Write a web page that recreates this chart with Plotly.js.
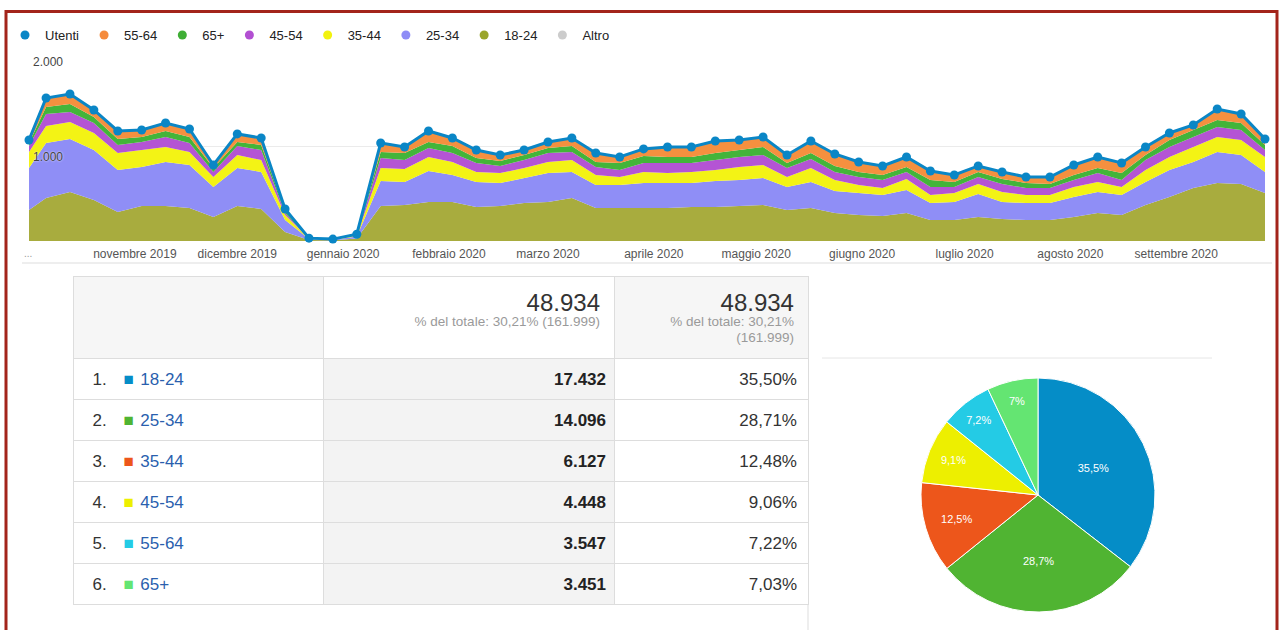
<!DOCTYPE html>
<html><head><meta charset="utf-8">
<script src="https://cdn.plot.ly/plotly-3.0.1.min.js"></script>
<style>html,body{margin:0;padding:0;background:#fff;} #chart{width:1282px;height:630px;}</style>
</head><body><div id="chart"></div>
<script>
// ---------- DATA ----------
const weeks = ['2019-10-15','2019-10-20','2019-10-27','2019-11-03','2019-11-10','2019-11-17','2019-11-24','2019-12-01','2019-12-08','2019-12-15','2019-12-22','2019-12-29',
'2020-01-05','2020-01-12','2020-01-19','2020-01-26','2020-02-02','2020-02-09','2020-02-16','2020-02-23','2020-03-01','2020-03-08','2020-03-15','2020-03-22','2020-03-29',
'2020-04-05','2020-04-12','2020-04-19','2020-04-26','2020-05-03','2020-05-10','2020-05-17','2020-05-24','2020-05-31','2020-06-07','2020-06-14','2020-06-21','2020-06-28',
'2020-07-05','2020-07-12','2020-07-19','2020-07-26','2020-08-02','2020-08-09','2020-08-16','2020-08-23','2020-08-30','2020-09-06','2020-09-13','2020-09-20','2020-09-27',
'2020-10-04','2020-10-11'];
const utenti = [1063,1505,1547,1379,1158,1168,1242,1179,800,1127,1084,337,30,20,71,1032,990,1158,1084,958,905,958,1042,1084,926,884,969,990,990,1053,1063,1095,905,1053,916,832,790,884,737,695,790,726,674,674,800,884,821,990,1137,1221,1389,1337,1074];
const age1824 = [326,453,516,432,305,368,368,347,253,368,337,95,10,7,25,368,379,411,411,358,368,400,411,453,347,347,347,347,358,358,368,379,326,347,295,274,263,295,221,221,253,232,221,221,253,295,274,379,463,558,611,600,505];
const age2534 = [442,579,558,526,442,411,463,453,316,400,390,126,10,6,22,263,242,326,284,263,242,263,305,274,242,242,263,263,253,274,274,284,242,274,232,232,221,242,179,190,242,179,179,179,211,221,211,242,284,274,326,305,221];
const age3544 = [168,179,179,179,179,179,158,137,105,137,126,53,4,3,10,137,137,147,137,105,105,105,116,126,105,84,116,105,116,116,137,137,105,147,116,84,74,116,84,95,105,105,84,84,105,105,84,126,137,158,158,158,158];
const age4554 = [63,126,105,105,84,84,105,95,53,95,105,21,2,2,6,105,95,95,95,95,74,84,95,84,84,74,95,105,95,105,105,105,95,95,84,84,84,74,84,63,74,84,74,74,74,95,74,105,105,105,105,105,74];
const age65 = [32,74,84,63,63,53,63,63,42,42,53,21,2,1,4,63,74,63,74,53,53,53,53,63,53,74,74,63,63,74,74,84,53,63,63,53,53,53,74,53,53,53,53,42,53,53,74,53,74,74,74,74,53];
const age5564 = [32,95,105,74,84,74,84,84,32,84,74,21,2,1,4,95,63,116,84,84,63,53,63,84,95,63,74,105,105,126,105,105,84,126,126,105,95,105,95,74,63,74,63,74,105,116,105,84,74,53,116,95,63];

const legendNames = ['Utenti','55-64','65+','45-54','35-44','25-34','18-24','Altro'];
const legendColors = ['#0a86c6','#f58b3c','#3fae35','#b24fd2','#f2f20e','#8e8cf6','#9aa52c','#cccccc'];

const monthTicks = ['2019-11-15','2019-12-15','2020-01-15','2020-02-15','2020-03-15','2020-04-15','2020-05-15','2020-06-15','2020-07-15','2020-08-15','2020-09-15'];
const monthLabels = ['novembre 2019','dicembre 2019','gennaio 2020','febbraio 2020','marzo 2020','aprile 2020','maggio 2020','giugno 2020','luglio 2020','agosto 2020','settembre 2020'];
const partialMonthLabel = '...';

const ageGroups = ['18-24','25-34','35-44','45-54','55-64','65+'];
const ageUsers = [17432,14096,6127,4448,3547,3451];
const ageColors = ['#058DC7','#50B432','#ED561B','#EDEF00','#24CBE5','#64E572'];
const totalUsers = 48934;
const siteUsers = 161999;

// ---------- HELPERS ----------
const W = 1282, H = 630;
const px = x => x / W;
const py = y => 1 - y / H;
const fmtInt = n => String(n).replace(/\B(?=(\d{3})+(?!\d))/g, '.');
const fmtDec = (v, d) => v.toFixed(d).replace('.', ',');
const NB = '\u00a0';
const FONT = 'Arial, "Liberation Sans", sans-serif';
const ctx = document.createElement('canvas').getContext('2d');
const tw = (t, size, bold) => { ctx.font = (bold ? 'bold ' : '') + size + 'px Arial, "Liberation Sans", sans-serif'; return ctx.measureText(t).width; };
const span = (style, t) => `<span style="${style}">${t}</span>`;
// horizontal gap of w pixels made of non-breaking spaces
const gap = (w, base) => {
  base = base || 12;
  if (w < 0.4) return '';
  const nb = tw(NB, base);
  const n = Math.floor(w / nb);
  const rem = w - n * nb;
  let s = '';
  if (n > 0) s += span(`font-size:${base}px`, NB.repeat(n));
  if (rem > 0.4) s += span(`font-size:${(rem / nb * base).toFixed(2)}px`, NB);
  return s;
};
// a tall blank that lowers the first text line inside a table cell
const STRUT = 21;
const strut = span(`font-size:${STRUT}px`, NB);
const strutW = tw(NB, STRUT);

// ---------- TRACES ----------
const traces = [];
const stackSeries = [
  {name:'18-24', y: age1824, color:'#a8ac3e'},
  {name:'25-34', y: age2534, color:'#8f8ef6'},
  {name:'35-44', y: age3544, color:'#f3f315'},
  {name:'45-54', y: age4554, color:'#b454d4'},
  {name:'65+',   y: age65,   color:'#43b43a'},
  {name:'55-64', y: age5564, color:'#f5903f'}
];
stackSeries.forEach(s => traces.push({
  type:'scatter', mode:'lines', x: weeks, y: s.y, name: s.name, stackgroup:'one',
  line:{width:0, color:s.color}, fillcolor:s.color, showlegend:false, hoverinfo:'skip'
}));
traces.push({
  type:'scatter', mode:'lines+markers', x: weeks, y: utenti, name:'Utenti',
  line:{width:3, color:'#0a86c6'}, marker:{size:9, color:'#0a86c6'},
  cliponaxis:false, showlegend:false, hoverinfo:'skip'
});
legendNames.forEach((n, i) => traces.push({
  type:'scatter', mode:'markers', x:[null], y:[null], name:n,
  marker:{size:9, color:legendColors[i]}, showlegend:true, hoverinfo:'skip'
}));

// ---------- TABLE ----------
const sumAge = ageUsers.reduce((a, b) => a + b, 0);
const pctTotal = fmtDec(totalUsers / siteUsers * 100, 2);
function rightBlock(lines) {
  const ws = lines.map(l => tw(l.t, l.size, false));
  const maxW = Math.max(...ws);
  return NB + '<br>' + lines.map((l, i) => gap(maxW - ws[i]) + span(`font-size:${l.size}px;color:${l.color}`, l.t) + gap(6)).join('<br>');
}
const bigNum = fmtInt(totalUsers);
const hdr2 = rightBlock([
  {t: bigNum, size: 24, color:'#333333'},
  {t: `% del totale: ${pctTotal}% (${fmtInt(siteUsers)})`, size: 13.5, color:'#9a9a9a'}
]);
const hdr3 = rightBlock([
  {t: bigNum, size: 24, color:'#333333'},
  {t: `% del totale: ${pctTotal}%`, size: 13.5, color:'#9a9a9a'},
  {t: `(${fmtInt(siteUsers)})`, size: 13.5, color:'#9a9a9a'}
]);
const RS = 17; // row text size
const col1 = ageGroups.map((g, i) => {
  const num = `${i + 1}.`;
  const wNum = tw(num, RS);
  const wSq = tw('■', RS);
  return strut + gap(11.5 - strutW) + span(`font-size:${RS}px;color:#333333`, num) + gap(123 - 92 - wNum) +
         span(`font-size:${RS}px;color:${ageColors[i]}`, '■') + gap(140 - 123 - wSq) +
         span(`font-size:${RS}px;color:#2a5fae`, g) + '<br>';
});
const col2 = ageUsers.map(v => strut + span(`font-size:${RS}px;color:#222222`, `<b>${fmtInt(v)}</b>`) + '<br>');
const col3 = ageUsers.map(v => strut + span(`font-size:${RS}px;color:#333333`, `${fmtDec(v / sumAge * 100, 2)}%`) + gap(3) + '<br>');
traces.push({
  type:'table',
  domain:{x:[px(73), px(808)], y:[0, py(276)]},
  columnwidth:[250, 291, 194],
  header:{
    values:[[''], [hdr2], [hdr3]],
    align:['left','right','right'],
    height:82,
    fill:{color:['#f6f6f6','#ffffff','#f6f6f6']},
    line:{color:'#dddddd', width:1},
    font:{family:FONT, size:12, color:'#333'}
  },
  cells:{
    values:[col1, col2, col3],
    align:['left','right','right'],
    height:41,
    fill:{color:['#ffffff','#f3f3f3','#ffffff']},
    line:{color:'#dddddd', width:1},
    font:{family:FONT, size:17, color:'#333'}
  }
});

// ---------- PIE ----------
const pieText = ageUsers.map(v => fmtDec(v / sumAge * 100, 1).replace(/,0$/, '') + '%');
traces.push({
  type:'pie', labels: ageGroups, values: ageUsers, text: pieText, textinfo:'text',
  sort:false, direction:'clockwise', rotation:0,
  marker:{colors: ageColors, line:{color:'#ffffff', width:1}},
  textposition:'inside', insidetextorientation:'horizontal',
  textfont:{family:FONT, size:11, color:'#ffffff'},
  domain:{x:[px(921), px(1155)], y:[py(612), py(378)]},
  showlegend:false, hoverinfo:'skip'
});

// ---------- LAYOUT ----------
const layout = {
  width: W, height: H, margin:{l:0, r:0, t:0, b:0},
  paper_bgcolor:'#ffffff', plot_bgcolor:'rgba(0,0,0,0)',
  separators:',.',
  font:{family:FONT, color:'#333'},
  showlegend:true,
  legend:{orientation:'h', traceorder:'normal', x:px(5), xanchor:'left', y:py(20), yanchor:'top',
          font:{family:FONT, size:13, color:'#222'}, bgcolor:'rgba(0,0,0,0)', itemclick:false},
  xaxis:{type:'date', domain:[px(29), px(1265)], range:[weeks[0], weeks[weeks.length - 1]],
         tickmode:'array', tickvals: monthTicks, ticktext: monthLabels,
         showgrid:false, zeroline:false, showline:false, ticks:'', ticklabelstandoff:4,
         tickfont:{family:FONT, size:12, color:'#555'}, fixedrange:true},
  yaxis:{domain:[py(241), py(51)], range:[0, 2000], tickmode:'array', tickvals:[1000, 2000],
         tickformat:',d', ticklabelposition:'inside', ticklabelshift:11, ticklabelstandoff:1,
         showgrid:true, gridcolor:'#ebebeb', gridwidth:1, zeroline:false, showline:false, ticks:'',
         tickfont:{family:FONT, size:12, color:'#444', shadow:'0px 0px 2px #ffffff'}, fixedrange:true},
  annotations:[
    {xref:'paper', yref:'paper', x:px(28), y:py(253), xanchor:'center', yanchor:'middle', showarrow:false,
     text:partialMonthLabel, font:{family:FONT, size:10, color:'#999'}}
  ],
  shapes:[
    {type:'line', xref:'paper', yref:'paper', x0:px(22), x1:px(1272), y0:py(263), y1:py(263), line:{color:'#dddddd', width:1}},
    {type:'line', xref:'paper', yref:'paper', x0:px(822), x1:px(1212), y0:py(358), y1:py(358), line:{color:'#e6e6e6', width:1}},
    {type:'line', xref:'paper', yref:'paper', x0:px(808), x1:px(808), y0:py(604), y1:py(632), line:{color:'#dddddd', width:1}},
    {type:'rect', xref:'paper', yref:'paper', x0:px(6), x1:px(1277), y0:py(645), y1:py(11.5), line:{color:'#a3241b', width:3}, fillcolor:'rgba(0,0,0,0)'}
  ]
};

Plotly.newPlot('chart', traces, layout, {staticPlot:true, displayModeBar:false});
</script>
</body></html>
